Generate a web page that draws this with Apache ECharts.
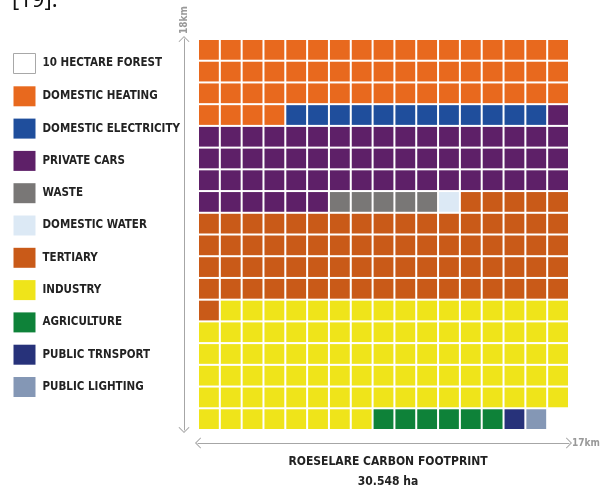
<!DOCTYPE html>
<html>
<head>
<meta charset="utf-8">
<script src="https://cdn.jsdelivr.net/npm/echarts@6/dist/echarts.min.js"></script>
<style>html,body{margin:0;padding:0;background:#fff;}#c{width:603px;height:489px;}</style>
</head>
<body>
<div id="c"></div>
<script>
const COLS = 17;
const ROWS = 18;
const categories = ['DOMESTIC HEATING','DOMESTIC ELECTRICITY','PRIVATE CARS','WASTE','DOMESTIC WATER','TERTIARY','INDUSTRY','AGRICULTURE','PUBLIC TRNSPORT','PUBLIC LIGHTING'];
const cellCounts = [55, 12, 58, 5, 1, 74, 92, 6, 1, 1];
const colors = ['#E8691E','#1F4E9C','#5E2068','#797776','#DCE9F5','#C95A18','#EFE41A','#0E8239','#27327A','#8497B5'];
const xCats = Array.from({length: COLS}, (_, i) => String(i));
const yCats = Array.from({length: ROWS}, (_, i) => String(i));
const FONT = '"Liberation Sans Narrow","DejaVu Sans Condensed",sans-serif';

let idx = 0;
const series = categories.map((name, k) => {
  const data = [];
  for (let j = 0; j < cellCounts[k]; j++) {
    data.push([idx % COLS, Math.floor(idx / COLS)]);
    idx++;
  }
  return {
    name, type: 'custom', data,
    itemStyle: { color: colors[k] },
    renderItem: (params, api) => {
      const p = api.coord([api.value(0), api.value(1)]);
      const s = api.size([1, 1]);
      return { type: 'rect', shape: { x: p[0] - s[0]/2 + 1, y: p[1] - s[1]/2 + 1, width: s[0] - 2, height: s[1] - 2 }, style: { fill: colors[k] } };
    }
  };
});
series.push({ name: '10 HECTARE FOREST', type: 'custom', data: [], renderItem: () => null, itemStyle: { color: '#fff', borderColor: '#aaa', borderWidth: 1 } });

const legendData = [{ name: '10 HECTARE FOREST', itemStyle: { color: '#fff', borderColor: '#a8a8a8', borderWidth: 1 } }].concat(categories.map(n => ({ name: n })));

const chev = 'path://M0,10 L10,0 L20,10 L18.5,11 L10,2.5 L1.5,11 Z';

const chart = echarts.init(document.getElementById('c'), null, { renderer: 'canvas' });
chart.setOption({
  animation: false,
  color: ['#fff'].concat(colors),
  grid: { left: 198, top: 39, width: 371, height: 391, outerBoundsMode: 'none', containLabel: false },
  legend: {
    data: legendData, orient: 'vertical', left: 8, top: 48,
    itemWidth: 22, itemHeight: 20, itemGap: 12.3, icon: 'rect',
    selectedMode: false,
    textStyle: { fontFamily: FONT, fontWeight: 'bold', fontSize: 11.5, color: '#222', padding: [0,0,0,2] }
  },
  title: {
    text: 'ROESELARE CARBON FOOTPRINT', subtext: '30.548 ha',
    left: 383, top: 451, textAlign: 'center', itemGap: 8,
    textStyle: { fontFamily: FONT, fontWeight: 'bold', fontSize: 12, color: '#222' },
    subtextStyle: { fontFamily: FONT, fontWeight: 'bold', fontSize: 12, color: '#222' }
  },
  xAxis: {
    type: 'category', data: xCats, position: 'bottom', offset: 13,
    axisLine: { show: true, lineStyle: { color: '#a6a6a6', width: 1 }, symbol: [chev, chev], symbolSize: [11, 7] },
    axisTick: { show: false }, axisLabel: { show: false }, splitLine: { show: false },
    name: '17km', nameLocation: 'end', nameGap: 3,
    nameTextStyle: { fontFamily: FONT, fontWeight: 'bold', fontSize: 10, color: '#999' }
  },
  yAxis: {
    type: 'category', data: yCats, inverse: true, position: 'left', offset: 14,
    axisLine: { show: true, lineStyle: { color: '#a6a6a6', width: 1 }, symbol: [chev, chev], symbolSize: [11, 7] },
    axisTick: { show: false }, axisLabel: { show: false }, splitLine: { show: false },
    name: '18km', nameLocation: 'start', nameGap: 5, nameRotate: 90,
    nameTextStyle: { fontFamily: FONT, fontWeight: 'bold', fontSize: 10, color: '#999', align: 'left', verticalAlign: 'middle' }
  },
  graphic: [
    { type: 'text', left: 12, top: -10, style: { text: '[19].', fontFamily: '"Noto Sans",sans-serif', fontSize: 22, fill: '#111' } }
  ],
  series
});
</script>
</body>
</html>
